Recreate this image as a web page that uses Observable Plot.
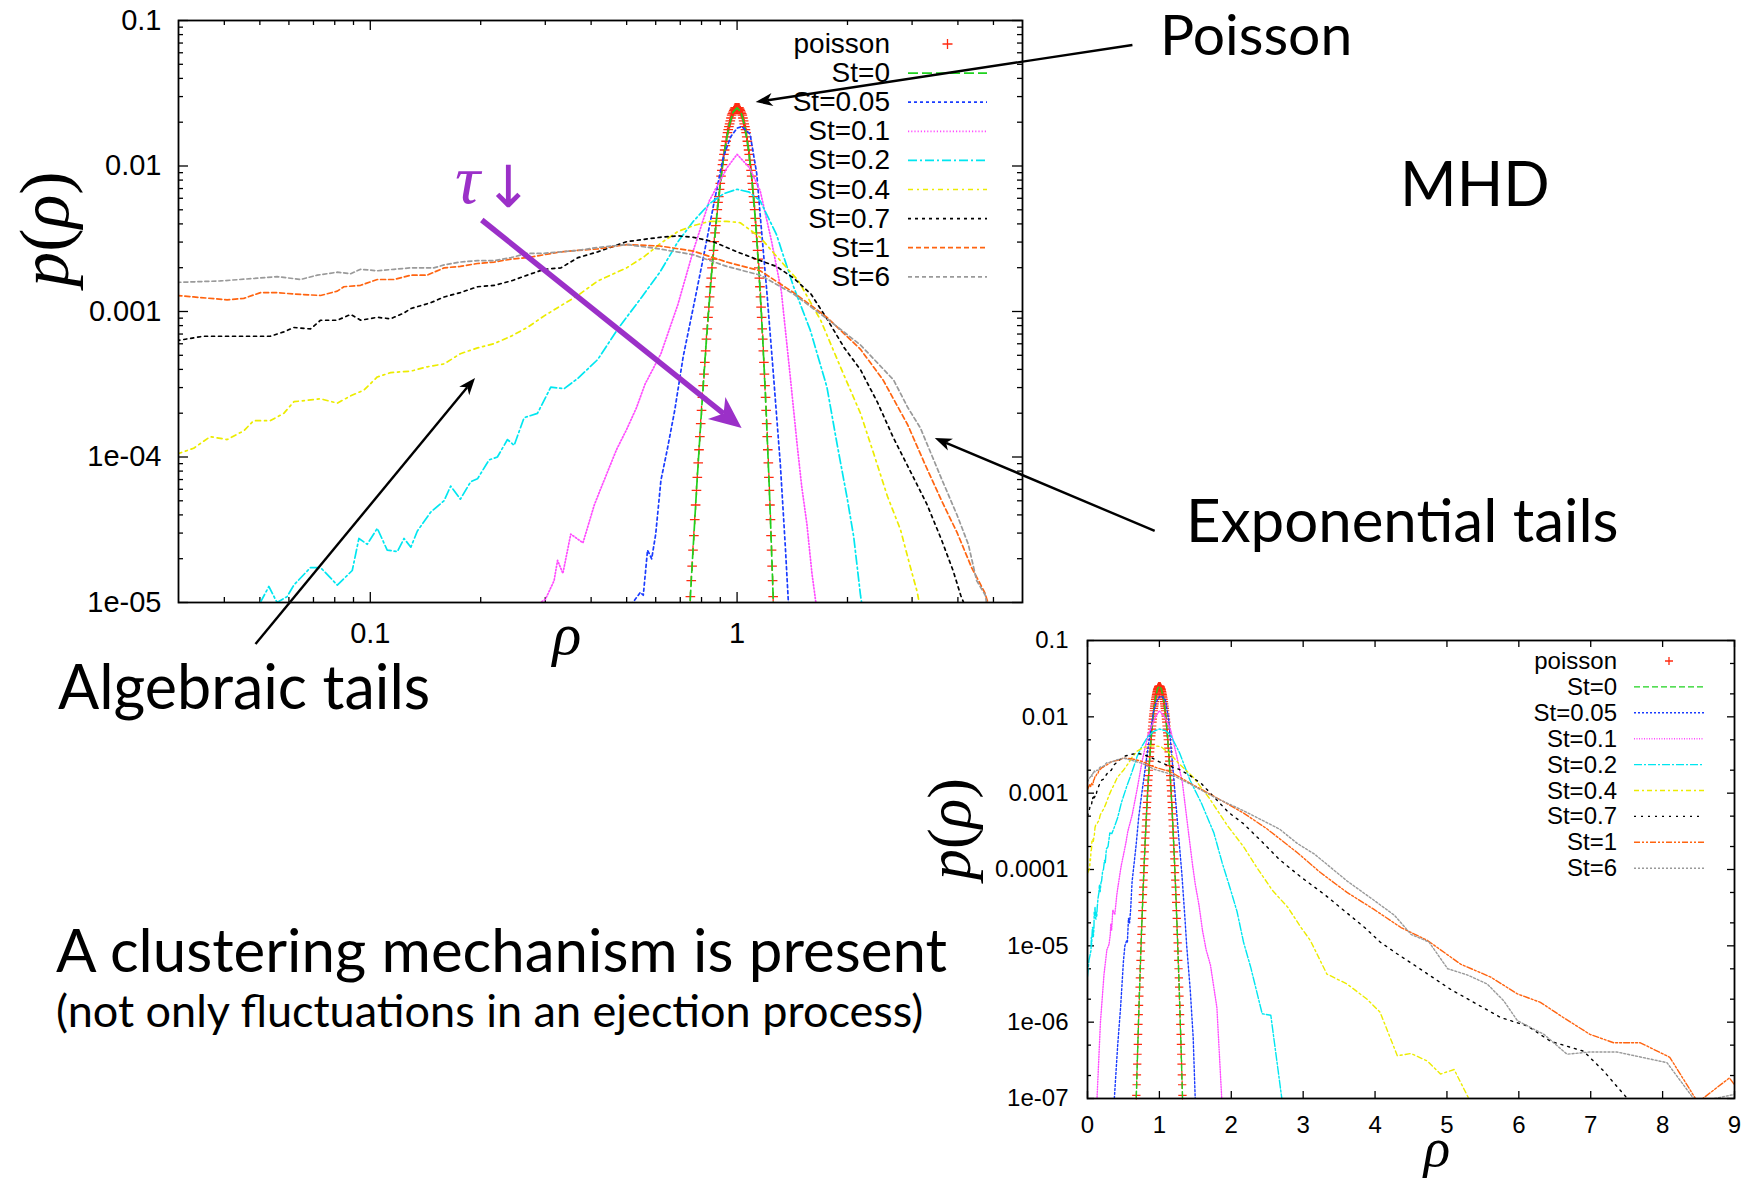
<!DOCTYPE html>
<html><head><meta charset="utf-8">
<script src="https://cdn.jsdelivr.net/npm/d3@7"></script>
<script src="https://cdn.jsdelivr.net/npm/@observablehq/plot@0.6"></script>
<style>
html,body{margin:0;padding:0;background:#fff;}
#wrap{position:relative;width:1749px;height:1182px;overflow:hidden;background:#fff;}
#wrap svg{position:absolute;left:0;top:0;}
</style></head><body><div id="wrap"></div>
<script>
// ---------------- DATA ----------------
// Poisson reference: bins rho = N / 240, N = 162 ... 318 ; values are log10 p
const poissonFirstN = 162;
const poissonMeanN = 240;
const poissonLogP = [
-7.10,-6.96,-6.82,-6.69,-6.55,-6.42,-6.29,-6.16,-6.03,-5.90,
-5.78,-5.66,-5.54,-5.42,-5.30,-5.19,-5.07,-4.96,-4.85,-4.75,
-4.64,-4.54,-4.43,-4.33,-4.23,-4.14,-4.04,-3.95,-3.86,-3.77,
-3.68,-3.59,-3.51,-3.43,-3.35,-3.27,-3.19,-3.12,-3.04,-2.97,
-2.90,-2.83,-2.77,-2.70,-2.64,-2.58,-2.52,-2.46,-2.41,-2.36,
-2.30,-2.25,-2.21,-2.16,-2.12,-2.07,-2.03,-1.99,-1.96,-1.92,
-1.89,-1.86,-1.83,-1.80,-1.77,-1.75,-1.73,-1.71,-1.69,-1.67,
-1.65,-1.64,-1.63,-1.62,-1.61,-1.60,-1.60,-1.60,
-1.60,
-1.60,-1.60,-1.60,-1.61,-1.62,-1.63,-1.64,-1.65,
-1.67,-1.69,-1.71,-1.73,-1.75,-1.77,-1.80,-1.83,-1.86,-1.89,
-1.92,-1.96,-1.99,-2.03,-2.07,-2.12,-2.16,-2.21,-2.25,-2.30,
-2.36,-2.41,-2.46,-2.52,-2.58,-2.64,-2.70,-2.77,-2.83,-2.90,
-2.97,-3.04,-3.12,-3.19,-3.27,-3.35,-3.43,-3.51,-3.59,-3.68,
-3.77,-3.86,-3.95,-4.04,-4.14,-4.23,-4.33,-4.43,-4.54,-4.64,
-4.75,-4.85,-4.96,-5.07,-5.19,-5.30,-5.42,-5.54,-5.66,-5.78,
-5.90,-6.03,-6.16,-6.29,-6.42,-6.55,-6.69,-6.82,-6.96,-7.10];

// Each series: [rho, log10 p]
const st0 = [[0.675,-7.10],[0.70,-6.29],[0.725,-5.54],[0.75,-4.85],[0.775,-4.23],[0.80,-3.68],[0.825,-3.19],[0.85,-2.77],[0.875,-2.41],[0.90,-2.12],[0.925,-1.89],[0.95,-1.73],[0.975,-1.63],[1.0,-1.60],[1.025,-1.63],[1.05,-1.73],[1.075,-1.89],[1.10,-2.12],[1.125,-2.41],[1.15,-2.77],[1.175,-3.19],[1.20,-3.68],[1.225,-4.23],[1.25,-4.85],[1.275,-5.54],[1.30,-6.29],[1.325,-7.10]];
const st005 = [[0.37,-7.05],[0.42,-6.30],[0.46,-5.81],[0.50,-5.20],[0.52,-5.00],[0.545,-4.93],[0.555,-4.95],[0.57,-4.64],[0.585,-4.70],[0.60,-4.53],[0.62,-4.16],[0.645,-3.95],[0.676,-3.68],[0.713,-3.31],[0.76,-2.97],[0.809,-2.63],[0.861,-2.28],[0.917,-1.94],[0.96,-1.80],[1.0,-1.74],[1.03,-1.73],[1.085,-1.78],[1.131,-2.05],[1.16,-2.38],[1.205,-2.86],[1.256,-3.43],[1.312,-4.05],[1.354,-4.62],[1.38,-5.00],[1.43,-5.59],[1.47,-6.20],[1.50,-7.05]];
const st01 = [[0.13,-7.05],[0.18,-6.00],[0.23,-5.37],[0.27,-5.05],[0.30,-4.98],[0.317,-4.85],[0.324,-4.71],[0.335,-4.80],[0.352,-4.53],[0.38,-4.59],[0.408,-4.33],[0.423,-4.23],[0.469,-3.95],[0.50,-3.81],[0.532,-3.66],[0.561,-3.50],[0.62,-3.29],[0.69,-2.95],[0.76,-2.58],[0.84,-2.24],[0.94,-2.01],[1.0,-1.92],[1.08,-2.01],[1.156,-2.17],[1.24,-2.51],[1.32,-2.86],[1.39,-3.40],[1.46,-3.93],[1.50,-4.20],[1.55,-4.46],[1.60,-4.80],[1.65,-5.05],[1.71,-5.25],[1.80,-5.81],[1.87,-7.05]];
const st02 = [[0,-5.40],[0.02,-5.19],[0.0487,-5.06],[0.0529,-4.89],[0.0557,-5.00],[0.0593,-4.96],[0.0619,-4.88],[0.0687,-4.76],[0.0732,-4.76],[0.0813,-4.88],[0.0893,-4.78],[0.0931,-4.56],[0.0981,-4.60],[0.1045,-4.49],[0.1112,-4.64],[0.1185,-4.65],[0.1236,-4.56],[0.129,-4.62],[0.1343,-4.51],[0.146,-4.38],[0.159,-4.30],[0.1656,-4.20],[0.176,-4.29],[0.1878,-4.17],[0.196,-4.15],[0.2108,-4.02],[0.2221,-4.00],[0.2366,-3.88],[0.2467,-3.92],[0.2626,-3.73],[0.2856,-3.70],[0.3105,-3.52],[0.3378,-3.53],[0.368,-3.46],[0.417,-3.33],[0.473,-3.12],[0.55,-2.90],[0.616,-2.73],[0.69,-2.52],[0.76,-2.38],[0.84,-2.26],[0.92,-2.19],[1.0,-2.16],[1.08,-2.18],[1.156,-2.24],[1.28,-2.47],[1.426,-2.83],[1.584,-3.13],[1.758,-3.52],[1.873,-3.91],[1.995,-4.28],[2.08,-4.55],[2.17,-4.95],[2.27,-5.28],[2.43,-5.89],[2.55,-5.91],[2.71,-7.05]];
const st04 = [[0,-4.05],[0.0297,-3.98],[0.033,-3.94],[0.0366,-3.86],[0.0407,-3.88],[0.0452,-3.82],[0.0481,-3.75],[0.0534,-3.75],[0.0581,-3.70],[0.0619,-3.62],[0.0732,-3.60],[0.0813,-3.63],[0.0884,-3.58],[0.0961,-3.54],[0.1045,-3.45],[0.1136,-3.42],[0.129,-3.41],[0.143,-3.38],[0.159,-3.36],[0.176,-3.29],[0.196,-3.25],[0.218,-3.22],[0.242,-3.17],[0.268,-3.11],[0.298,-3.03],[0.331,-2.96],[0.368,-2.89],[0.417,-2.79],[0.50,-2.70],[0.56,-2.62],[0.62,-2.53],[0.69,-2.45],[0.76,-2.41],[0.844,-2.38],[0.937,-2.38],[1.02,-2.39],[1.156,-2.49],[1.28,-2.62],[1.47,-2.79],[1.69,-3.06],[1.95,-3.43],[2.17,-3.70],[2.36,-3.98],[2.57,-4.27],[2.79,-4.50],[2.97,-4.76],[3.10,-4.93],[3.33,-5.37],[3.61,-5.50],[3.89,-5.70],[4.07,-5.87],[4.31,-6.44],[4.50,-6.41],[4.73,-6.51],[4.91,-6.68],[5.10,-6.62],[5.33,-7.05]];
const st07 = [[0,-3.30],[0.0297,-3.20],[0.0351,-3.17],[0.0407,-3.17],[0.0534,-3.17],[0.0581,-3.14],[0.0619,-3.11],[0.0687,-3.12],[0.0732,-3.06],[0.0813,-3.06],[0.0884,-3.02],[0.0941,-3.06],[0.1045,-3.04],[0.1136,-3.05],[0.1236,-3.01],[0.129,-2.98],[0.146,-2.94],[0.159,-2.90],[0.176,-2.87],[0.196,-2.83],[0.218,-2.82],[0.242,-2.79],[0.268,-2.75],[0.298,-2.71],[0.331,-2.70],[0.368,-2.63],[0.417,-2.59],[0.50,-2.52],[0.616,-2.49],[0.69,-2.48],[0.76,-2.49],[0.86,-2.52],[1.0,-2.59],[1.156,-2.65],[1.28,-2.69],[1.426,-2.77],[1.59,-2.88],[1.758,-3.05],[1.96,-3.25],[2.17,-3.40],[2.42,-3.63],[2.67,-3.87],[2.97,-4.10],[3.30,-4.33],[3.61,-4.57],[3.88,-4.78],[4.07,-4.95],[4.30,-5.10],[4.59,-5.28],[5.05,-5.57],[5.75,-5.94],[6.12,-6.05],[6.44,-6.25],[6.90,-6.38],[7.18,-6.64],[7.50,-6.99],[7.60,-7.10]];
const st1 = [[0,-2.95],[0.0297,-2.89],[0.033,-2.90],[0.0407,-2.92],[0.0452,-2.91],[0.0502,-2.87],[0.0557,-2.87],[0.0619,-2.88],[0.0732,-2.89],[0.0813,-2.86],[0.0847,-2.83],[0.0941,-2.82],[0.1045,-2.78],[0.116,-2.78],[0.129,-2.75],[0.143,-2.75],[0.159,-2.70],[0.176,-2.69],[0.196,-2.67],[0.218,-2.66],[0.242,-2.64],[0.268,-2.63],[0.298,-2.61],[0.331,-2.59],[0.368,-2.58],[0.417,-2.57],[0.50,-2.54],[0.616,-2.55],[0.76,-2.585],[0.937,-2.66],[1.156,-2.72],[1.426,-2.87],[1.758,-3.04],[2.17,-3.26],[2.50,-3.47],[2.92,-3.78],[3.24,-4.04],[3.61,-4.30],[3.98,-4.52],[4.36,-4.76],[4.73,-4.93],[5.19,-5.24],[5.61,-5.41],[5.98,-5.63],[6.30,-5.74],[6.62,-5.94],[6.99,-6.16],[7.32,-6.27],[7.69,-6.27],[8.10,-6.46],[8.49,-7.05],[8.93,-6.73],[9.1,-6.95]];
const st6 = [[0,-2.85],[0.0297,-2.80],[0.039,-2.79],[0.050,-2.77],[0.0557,-2.76],[0.0645,-2.78],[0.0717,-2.75],[0.0813,-2.73],[0.0884,-2.74],[0.0941,-2.71],[0.1045,-2.72],[0.116,-2.71],[0.129,-2.70],[0.149,-2.70],[0.159,-2.68],[0.176,-2.66],[0.196,-2.65],[0.218,-2.65],[0.242,-2.63],[0.268,-2.60],[0.298,-2.60],[0.331,-2.59],[0.368,-2.58],[0.417,-2.56],[0.50,-2.54],[0.616,-2.57],[0.76,-2.61],[0.937,-2.69],[1.156,-2.75],[1.426,-2.88],[1.758,-3.05],[2.17,-3.23],[2.67,-3.47],[2.92,-3.66],[3.16,-3.80],[3.61,-4.15],[3.98,-4.40],[4.27,-4.60],[4.50,-4.85],[4.75,-4.95],[5.01,-5.30],[5.28,-5.38],[5.56,-5.50],[5.79,-5.72],[5.98,-5.98],[6.35,-6.16],[6.67,-6.42],[6.99,-6.39],[7.36,-6.39],[8.06,-6.53],[8.47,-7.05],[8.98,-6.95],[9.1,-6.9]];

const seriesNames = ["St=0","St=0.05","St=0.1","St=0.2","St=0.4","St=0.7","St=1","St=6"];
const seriesData = [st0, st005, st01, st02, st04, st07, st1, st6];
const seriesColors = ["#1ed21e","#1a3cff","#ff4cff","#00e6f0","#ecec00","#000000","#ff6410","#9a9a9a"];
const seriesDashMain = ["10,4","3,3","1.2,2","9,3,2,3","5,4,2,4","3,4","5,3","4,3"];
const seriesDashInset = ["6,3","2,2","1,1.5","8,2,2,2","5,3,2,3","2,5","6,2,2,2,2,2","2,2"];
const poissonColor = "#ff2a10";

const mainXTicks = [0.1, 1];
const mainXLabels = ["0.1", "1"];
const mainYTicks = [0.1, 0.01, 0.001, 1e-4, 1e-5];
const mainYLabels = ["0.1", "0.01", "0.001", "1e-04", "1e-05"];
const insetXTicks = [0,1,2,3,4,5,6,7,8,9];
const insetXLabels = ["0","1","2","3","4","5","6","7","8","9"];
const insetYTicks = [0.1, 0.01, 0.001, 1e-4, 1e-5, 1e-6, 1e-7];
const insetYLabels = ["0.1","0.01","0.001","0.0001","1e-05","1e-06","1e-07"];

// ---------------- BUILD ----------------
const W = 1749, H = 1182;
const wrap = document.getElementById("wrap");
const toRows = (arr) => arr.map(([rho, lp]) => ({rho, p: 10 ** lp}));
const seriesRows = seriesData.map(toRows);
const poissonRows = poissonLogP.map((lp, i) => ({rho: (poissonFirstN + i) / poissonMeanN, p: 10 ** lp}));

function minorTicks(e0, e1, mults, lo, hi) {
  const out = [];
  for (let e = e0; e <= e1; e++) for (const m of mults) { const v = m * 10 ** e; if (v > lo * 1.001 && v < hi * 0.999) out.push(v); }
  return out;
}

function frameTicks(xMaj, xMin, yMaj, yMin, fw, fh, big, small) {
  const st = {stroke: "black", strokeWidth: 1.3};
  return [
    Plot.tickX(xMaj, {x: d => d, insetTop: fh - big, ...st}),
    Plot.tickX(xMaj, {x: d => d, insetBottom: fh - big, ...st}),
    Plot.tickX(xMin, {x: d => d, insetTop: fh - small, ...st}),
    Plot.tickX(xMin, {x: d => d, insetBottom: fh - small, ...st}),
    Plot.tickY(yMaj, {y: d => d, insetRight: fw - big, ...st}),
    Plot.tickY(yMaj, {y: d => d, insetLeft: fw - big, ...st}),
    Plot.tickY(yMin, {y: d => d, insetRight: fw - small, ...st}),
    Plot.tickY(yMin, {y: d => d, insetLeft: fw - small, ...st})
  ];
}

// Main chart frame: x 178..1022, y 20..602
const F1 = {l: 178, r: 1022, t: 20, b: 602};
const mainPlot = Plot.plot({
  width: W, height: H,
  marginLeft: F1.l, marginRight: W - F1.r, marginTop: F1.t, marginBottom: H - F1.b,
  x: {type: "log", domain: [0.03, 6]},
  y: {type: "log", domain: [1e-5, 0.1]},
  style: {fontFamily: "'Liberation Sans', Arial, sans-serif", fontSize: "29px", background: "white", color: "black", overflow: "visible"},
  marks: [
    ...frameTicks(mainXTicks, minorTicks(-2, 0, [2,3,4,5,6,7,8,9], 0.03, 6),
                  mainYTicks, minorTicks(-5, -2, [2,3,4,5,6,7,8,9], 1e-5, 0.1),
                  F1.r - F1.l, F1.b - F1.t, 10, 5),
    Plot.axisX(mainXTicks, {tickSize: 0, tickPadding: 20, label: null, fontSize: 29, tickFormat: d => mainXLabels[mainXTicks.indexOf(d)]}),
    Plot.axisY(mainYTicks, {tickSize: 0, tickPadding: 17, label: null, fontSize: 29, tickFormat: d => mainYLabels[mainYTicks.indexOf(d)]}),
    Plot.dot(poissonRows.filter(d => d.p >= 1e-5), {x: "rho", y: "p", symbol: "plus", r: 3.2, stroke: poissonColor, strokeWidth: 1.3}),
    ...seriesRows.map((rows, i) => Plot.line(rows.filter(d => d.rho > 0), {x: "rho", y: "p", stroke: seriesColors[i], strokeWidth: 1.7, strokeDasharray: seriesDashMain[i], clip: true})),
    Plot.frame({stroke: "black", strokeWidth: 1.8})
  ]
});
wrap.appendChild(mainPlot);

// Inset chart frame: x 1087..1734, y 640..1098
const F2 = {l: 1087, r: 1734, t: 640, b: 1098};
const insetPlot = Plot.plot({
  width: W, height: H,
  marginLeft: F2.l, marginRight: W - F2.r, marginTop: F2.t, marginBottom: H - F2.b,
  x: {type: "linear", domain: [0, 9]},
  y: {type: "log", domain: [1e-7, 0.1]},
  style: {fontFamily: "'Liberation Sans', Arial, sans-serif", fontSize: "24px", background: "transparent", color: "black", overflow: "visible"},
  marks: [
    ...frameTicks(insetXTicks, [], insetYTicks, minorTicks(-7, -2, [2,5], 1e-7, 0.1),
                  F2.r - F2.l, F2.b - F2.t, 7, 4),
    Plot.axisX(insetXTicks, {tickSize: 0, tickPadding: 17, label: null, fontSize: 24, tickFormat: d => insetXLabels[insetXTicks.indexOf(d)]}),
    Plot.axisY(insetYTicks, {tickSize: 0, tickPadding: 19, label: null, fontSize: 24, tickFormat: d => insetYLabels[insetYTicks.indexOf(d)]}),
    Plot.dot(poissonRows.filter(d => d.p >= 1e-7), {x: "rho", y: "p", symbol: "plus", r: 2.8, stroke: poissonColor, strokeWidth: 1.2}),
    ...seriesRows.map((rows, i) => Plot.line(rows, {x: "rho", y: "p", stroke: seriesColors[i], strokeWidth: 1.4, strokeDasharray: seriesDashInset[i], clip: true})),
    Plot.frame({stroke: "black", strokeWidth: 1.8})
  ]
});
wrap.appendChild(insetPlot);

// ---------------- ANNOTATIONS ----------------
function scaleFn(plot, name) {
  const s = plot.scale(name);
  if (s && typeof s.apply === "function") return v => s.apply(v);
  const f = (s.type === "log" ? d3.scaleLog() : d3.scaleLinear()).domain(s.domain).range(s.range);
  return v => f(v);
}
const mx = scaleFn(mainPlot, "x"), my = scaleFn(mainPlot, "y");
const g1 = d3.select(mainPlot).append("g").attr("text-anchor", "start");
const g2 = d3.select(insetPlot).append("g").attr("text-anchor", "start");

function legend(g, opt) {
  const names = ["poisson", ...seriesNames];
  names.forEach((name, i) => {
    const yb = opt.y0 + i * opt.step;
    g.append("text").attr("x", opt.xText).attr("y", yb).attr("text-anchor", "end")
      .attr("font-family", "'Liberation Sans', Arial, sans-serif").attr("font-size", opt.size).attr("fill", "black").text(name);
    const yl = yb - opt.lineOff;
    if (i === 0) {
      const cx = (opt.x1 + opt.x2) / 2, r = opt.plus;
      g.append("path").attr("d", `M${cx - r},${yl}H${cx + r}M${cx},${yl - r}V${yl + r}`).attr("stroke", poissonColor).attr("stroke-width", 1.3).attr("fill", "none");
    } else {
      g.append("line").attr("x1", opt.x1).attr("x2", opt.x2).attr("y1", yl).attr("y2", yl)
        .attr("stroke", seriesColors[i - 1]).attr("stroke-width", opt.width).attr("stroke-dasharray", opt.dash[i - 1]);
    }
  });
}
legend(g1, {xText: F1.r - 132, y0: F1.t + 33, step: 29.1, lineOff: 9, x1: F1.r - 114, x2: F1.r - 35, size: 28, plus: 5, width: 1.7, dash: seriesDashMain});
legend(g2, {xText: F2.r - 117, y0: F2.t + 29, step: 25.9, lineOff: 8, x1: F2.r - 100, x2: F2.r - 30, size: 24, plus: 4, width: 1.4, dash: seriesDashInset});

// axis titles
function mathLabel(g, x, y, size, rotate, parts) {
  const t = g.append("text").attr("x", x).attr("y", y).attr("text-anchor", "middle")
    .attr("font-family", "'Liberation Serif', 'DejaVu Serif', serif").attr("font-size", size).attr("fill", "black");
  if (rotate) t.attr("transform", `rotate(${rotate},${x},${y})`);
  parts.forEach(([s, it]) => t.append("tspan").attr("font-style", it ? "italic" : "normal").text(s));
}
const pRho = [["p", true], ["(", false], ["ρ", true], [")", false]];
mathLabel(g1, 68, 229, 70, -90, pRho);
mathLabel(g1, 567, 654, 60, 0, [["ρ", true]]);
mathLabel(g2, 970, 829, 62, -90, pRho);
mathLabel(g2, 1437, 1166, 55, 0, [["ρ", true]]);

// arrows (positions given in data units of the main chart)
const arrows = [
  {from: [12.0, 0.0673], to: [1.127, 0.0273], color: "black", width: 2.4, head: 17, half: 6.5},
  {from: [0.0488, 5.14e-6], to: [0.1936, 3.47e-4], color: "black", width: 2.4, head: 17, half: 6.5},
  {from: [13.8, 3.08e-5], to: [3.47, 1.34e-4], color: "black", width: 2.4, head: 17, half: 6.5},
  {from: [0.202, 4.22e-3], to: [1.032, 1.57e-4], color: "#9b30c8", width: 5.5, head: 32, half: 14}
];
arrows.forEach(a => {
  const x1 = mx(a.from[0]), y1 = my(a.from[1]), x2 = mx(a.to[0]), y2 = my(a.to[1]);
  const L = Math.hypot(x2 - x1, y2 - y1), ux = (x2 - x1) / L, uy = (y2 - y1) / L, nx = -uy, ny = ux;
  const bx = x2 - ux * a.head, by = y2 - uy * a.head;
  const kx = x2 - ux * a.head * 0.72, ky = y2 - uy * a.head * 0.72;
  g1.append("line").attr("x1", x1).attr("y1", y1).attr("x2", kx).attr("y2", ky).attr("stroke", a.color).attr("stroke-width", a.width);
  g1.append("path").attr("d", `M${x2},${y2}L${bx + nx * a.half},${by + ny * a.half}L${kx},${ky}L${bx - nx * a.half},${by - ny * a.half}Z`).attr("fill", a.color);
});

// slide texts
const slideFont = "Lato, 'Open Sans', sans-serif";
const texts = [
  {t: "Poisson", x: 1160, y: 55, s: 57},
  {t: "MHD", x: 1400, y: 206, s: 61},
  {t: "Exponential tails", x: 1186, y: 542, s: 60},
  {t: "Algebraic tails", x: 58, y: 709, s: 61},
  {t: "A clustering mechanism is present", x: 56, y: 972, s: 60},
  {t: "(not only fluctuations in an ejection process)", x: 56, y: 1027, s: 45}
];
texts.forEach(d => g1.append("text").attr("x", d.x).attr("y", d.y).attr("text-anchor", "start").attr("font-family", slideFont).attr("font-size", d.s).attr("fill", "black").text(d.t));
g1.append("text").attr("x", 455).attr("y", 203).attr("text-anchor", "start").attr("font-family", "'Liberation Serif', serif").attr("font-style", "italic").attr("font-size", 70).attr("fill", "#9b30c8").text("τ");
g1.append("text").attr("x", 484).attr("y", 207).attr("text-anchor", "start").attr("font-family", "'DejaVu Sans', sans-serif").attr("font-size", 58).attr("fill", "#9b30c8").text("↓");
</script></body></html>
